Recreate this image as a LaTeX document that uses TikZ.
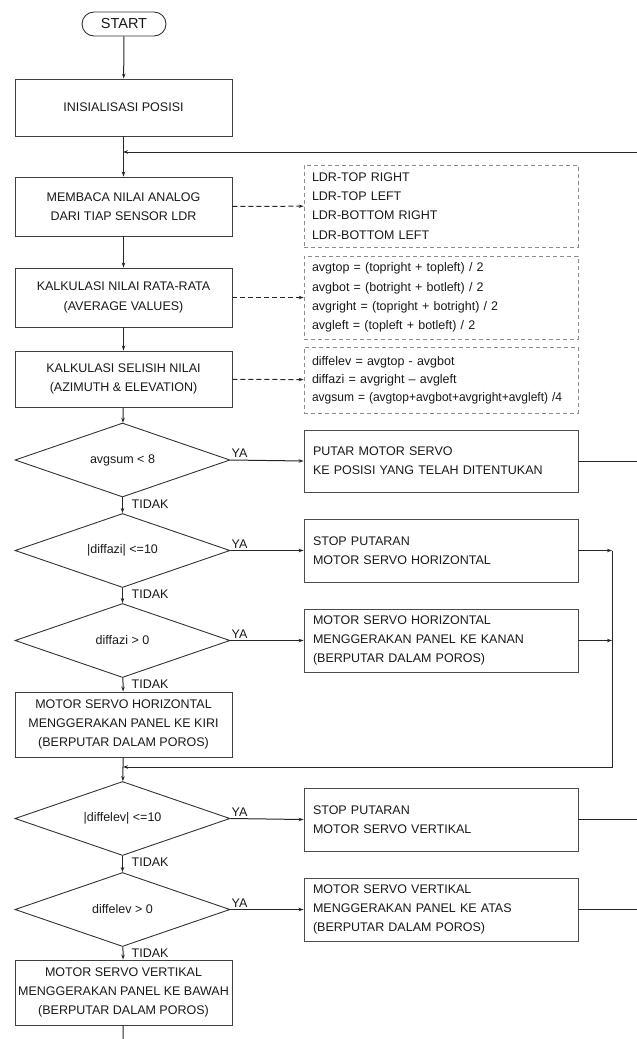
\documentclass[tikz,border=0pt]{standalone}
\usepackage{fontspec}
\usepackage{graphicx}
\setmainfont{Liberation Sans}
\usetikzlibrary{shapes.geometric,arrows.meta}
\begin{document}
\begin{tikzpicture}[x=1pt,y=-1pt,
  font=\fontsize{12.5}{19.3}\selectfont,
  every node/.style={text=black!90},
  mainbox/.style={draw=black!75,line width=0.9pt,rectangle,minimum width=217pt,align=center,inner sep=0pt},
  sidebox/.style={draw=black!70,line width=0.9pt,rectangle,minimum width=274pt,text width=256pt,inner xsep=9pt,inner ysep=0pt,align=left},
  dashbox/.style={draw=black!45,line width=0.8pt,dash pattern=on 4pt off 3pt,rectangle,minimum width=274pt,text width=258pt,inner xsep=8pt,inner ysep=0pt,align=left},
  decision/.style={draw=black!80,line width=0.9pt,diamond,aspect=2.9,minimum width=215pt,minimum height=74pt,inner sep=0pt,align=center},
  terminal/.style={draw=black!80,line width=0.9pt,rectangle,rounded corners=12pt,minimum width=84pt,minimum height=24pt,inner sep=0pt,font=\fontsize{14.5}{16}\selectfont},
  flow/.style={draw=black!85,line width=1pt},
  arr/.style={flow,-{Stealth[length=5pt,width=3.5pt]}},
  darr/.style={arr,dash pattern=on 5pt off 3pt},
  lbl/.style={inner sep=1pt,text=black!90}
]
\useasboundingbox (0,0) rectangle (637,1039);

% main column
\node[terminal] (start) at (124,24) {START};
\node[mainbox,minimum height=57pt] (init) at (123.5,107.5) {INISIALISASI POSISI};
\node[mainbox,minimum height=59pt] (baca) at (123.5,206.5) {MEMBACA NILAI ANALOG\\DARI TIAP SENSOR LDR};
\node[mainbox,minimum height=59pt] (rata) at (123.5,297.5) {KALKULASI NILAI RATA-RATA\\(AVERAGE VALUES)};
\node[mainbox,minimum height=56pt] (selisih) at (123.5,379) {KALKULASI SELISIH NILAI\\(AZIMUTH \& ELEVATION)};
\node[decision] (d1) at (122.5,460) {avgsum {\textless} 8};
\node[decision] (d2) at (122.5,550.5) {|diffazi| {\textless}=10};
\node[decision] (d3) at (122.5,640.5) {diffazi {\textgreater} 0};
\node[mainbox,minimum height=65pt] (kiri) at (123.5,724.5) {MOTOR SERVO HORIZONTAL\\MENGGERAKAN PANEL KE KIRI\\(BERPUTAR DALAM POROS)};
\node[decision] (d4) at (122.5,818.5) {|diffelev| {\textless}=10};
\node[decision] (d5) at (122.5,909.5) {diffelev {\textgreater} 0};
\node[mainbox,minimum height=65pt] (bawah) at (123.5,992.5) {MOTOR SERVO VERTIKAL\\MENGGERAKAN PANEL KE BAWAH\\(BERPUTAR DALAM POROS)};

% side column
\node[dashbox,minimum height=82pt] (ldr) at (441,206) {LDR-TOP RIGHT\\LDR-TOP LEFT\\LDR-BOTTOM RIGHT\\LDR-BOTTOM LEFT};
\node[dashbox,minimum height=83pt] (avg) at (441,297.5) {avgtop = (topright + topleft) / 2\\avgbot = (botright + botleft) / 2\\avgright = (topright + botright) / 2\\avgleft = (topleft + botleft) / 2};
\node[dashbox,minimum height=66pt,font=\fontsize{12.5}{18}\selectfont] (diff) at (441,380) {diffelev = avgtop - avgbot\\diffazi = avgright -- avgleft\\\scalebox{0.96}[1]{avgsum = (avgtop+avgbot+avgright+avgleft) /4}};
\node[sidebox,minimum height=62pt] (putar) at (441,461) {PUTAR MOTOR SERVO\\KE POSISI YANG TELAH DITENTUKAN};
\node[sidebox,minimum height=63pt] (stoph) at (441,550.5) {STOP PUTARAN\\MOTOR SERVO HORIZONTAL};
\node[sidebox,minimum height=63pt] (kanan) at (441,640.5) {MOTOR SERVO HORIZONTAL\\MENGGERAKAN PANEL KE KANAN\\(BERPUTAR DALAM POROS)};
\node[sidebox,minimum height=63pt] (stopv) at (441,819.5) {STOP PUTARAN\\MOTOR SERVO VERTIKAL};
\node[sidebox,minimum height=63pt] (atas) at (441,909.5) {MOTOR SERVO VERTIKAL\\MENGGERAKAN PANEL KE ATAS\\(BERPUTAR DALAM POROS)};

% helper coordinates
\coordinate (edge) at (637,0);
\coordinate (loopR) at (637,152);
\coordinate (loopL) at (123,152);
\coordinate (mergeX) at (612,0);
\coordinate (mergeTop) at (612,550.5);
\coordinate (mergeBot) at (612,767);
\coordinate (mergeIn) at (123,767);
\coordinate (endB) at (123,1039);

% main flow
\draw[arr] (start) -- (init);
\draw[arr] (init) -- (baca);
\draw[arr] (loopR) -- (loopL);
\draw[arr] (baca) -- (rata);
\draw[arr] (rata) -- (selisih);
\draw[arr] (selisih) -- (d1);
\draw[arr] (d1) -- (d2);
\draw[arr] (d2) -- (d3);
\draw[arr] (d3) -- (kiri);
\draw[flow] (kiri) -- (mergeIn);
\draw[arr] (mergeIn) -- (d4);
\draw[arr] (d4) -- (d5);
\draw[arr] (d5) -- (bawah);
\draw[flow] (bawah) -- (endB);

% dashed links
\draw[darr] (baca) -- (ldr);
\draw[darr] (rata) -- (avg);
\draw[darr] (selisih) -- (diff);

% YA branches
\draw[arr] (d1.east) -- (putar.west);
\draw[arr] (d2.east) -- (stoph.west);
\draw[arr] (d3.east) -- (kanan.west);
\draw[arr] (d4.east) -- (stopv.west);
\draw[arr] (d5.east) -- (atas.west);

% exits
\draw[flow] (putar.east) -- (putar.east -| edge);
\draw[arr] (stoph.east) -- (stoph.east -| mergeX);
\draw[arr] (kanan.east) -- (kanan.east -| mergeX);
\draw[arr] (mergeTop) -- (mergeBot) -- (mergeIn);
\draw[flow] (stopv.east) -- (stopv.east -| edge);
\draw[flow] (atas.east) -- (atas.east -| edge);

% labels
\foreach \d in {d1,d2,d3,d4,d5}{
  \node[lbl,anchor=south west] at ([xshift=0pt,yshift=1pt]\d.east) {YA};
  \node[lbl,anchor=north west] at ([xshift=8pt,yshift=-1pt]\d.south) {TIDAK};
}
\end{tikzpicture}
\end{document}
